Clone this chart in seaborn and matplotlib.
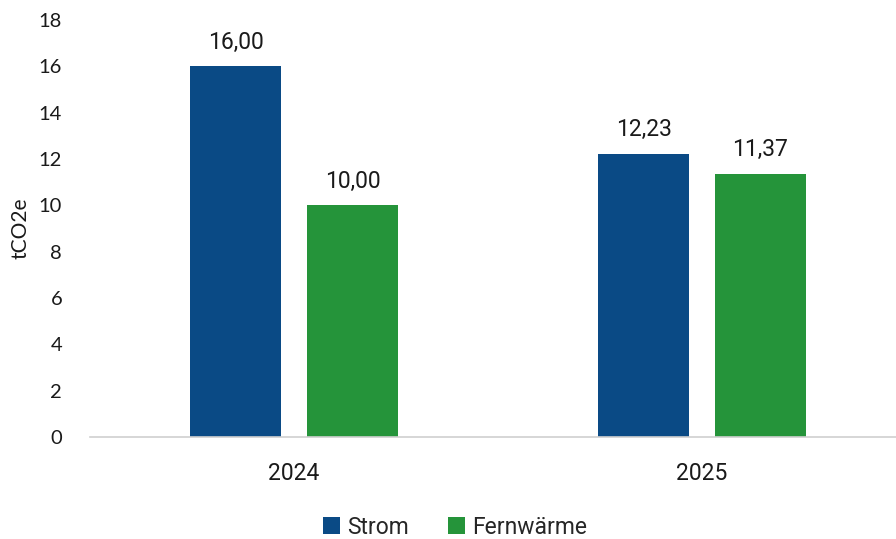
import matplotlib
matplotlib.use("Agg")
import matplotlib.pyplot as plt
import seaborn as sns
import pandas as pd
from matplotlib.patches import Patch

years = ["2024", "2025"]
series = ["Strom", "Fernwärme"]
strom = [16.00, 12.23]
fernwaerme = [10.00, 11.37]
y_ticks = [0, 2, 4, 6, 8, 10, 12, 14, 16, 18]
colors = ["#0A4A85", "#25943A"]

df = pd.DataFrame({
    "Jahr": years * 2,
    "Serie": [series[0]] * 2 + [series[1]] * 2,
    "Wert": strom + fernwaerme,
})

sns.set_theme(style="white")
plt.rcParams["font.family"] = ["Roboto", "DejaVu Sans"]

fig = plt.figure(figsize=(8.96, 5.39), dpi=100)
ax = fig.add_axes([0.1004, 0.1892, 0.9107, 0.7737])

sns.barplot(data=df, x="Jahr", y="Wert", hue="Serie", order=years, hue_order=series,
            palette=colors, width=0.573, gap=0.215, ax=ax, legend=False, saturation=1,
            linewidth=0, edgecolor="none")

for cont in ax.containers:
    ax.bar_label(cont, labels=[f"{v:.2f}".replace(".", ",") for v in cont.datavalues],
                 padding=9, fontsize=16.5, color="#1a1a1a")

ax.set_ylim(0, 18)
ax.set_xlim(-0.5, 1.5)
ax.set_yticks(y_ticks)
ax.set_yticklabels([str(t) for t in y_ticks], family=["Lato", "DejaVu Sans"], fontsize=14.5, color="#1a1a1a")
ax.tick_params(axis="y", length=0, pad=20)
ax.tick_params(axis="x", length=0, pad=18, labelsize=16.5, labelcolor="#1a1a1a")
ax.set_xlabel("")
ax.set_ylabel("tCO2e", family=["Lato", "DejaVu Sans"], fontsize=15, color="#1a1a1a", labelpad=6)
for s in ["top", "right", "left"]:
    ax.spines[s].set_visible(False)
ax.spines["bottom"].set_color("#d0d0d0")
ax.spines["bottom"].set_linewidth(1.2)

handles = [Patch(facecolor=c, edgecolor="none", label=l) for c, l in zip(colors, series)]
fig.legend(handles=handles, loc="center", bbox_to_anchor=(0.508, 0.022), ncol=2, frameon=False,
           fontsize=16.5, handlelength=0.75, handleheight=0.75, handletextpad=0.3, columnspacing=1.7)

fig.savefig("out.png", dpi=100)
